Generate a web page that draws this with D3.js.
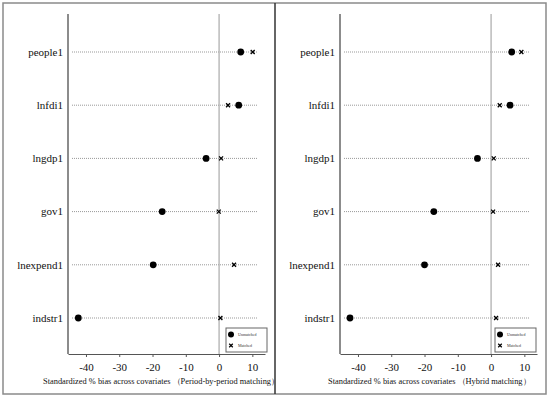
<!DOCTYPE html>
<html>
<head>
<meta charset="utf-8">
<script src="https://cdn.jsdelivr.net/npm/d3@7"></script>
<style>
  body { margin: 0; background: #fff; }
  svg text { font-family: "Liberation Serif", "Times New Roman", Times, "DejaVu Serif", serif; }
</style>
</head>
<body>
<svg id="chart" width="550" height="399"></svg>
<script>
// covariates, top to bottom
var categories = ['people1', 'lnfdi1', 'lngdp1', 'gov1', 'lnexpend1', 'indstr1'];

// standardized % bias, period-by-period matching
var unmatchedPeriod = [6.5, 5.9, -3.9, -17.1, -19.8, -42.3];
var matchedPeriod = [10.1, 2.7, 0.6, -0.1, 4.5, 0.4];

// standardized % bias, hybrid matching
var unmatchedHybrid = [6.2, 5.7, -4.1, -17.2, -20.0, -42.4];
var matchedHybrid = [9.1, 2.6, 0.8, 0.6, 2.1, 1.5];

var xTicks = [-40, -30, -20, -10, 0, 10];
var legendLabels = ['Unmatched', 'Matched'];

var svg = d3.select('#chart');

// outer frame + divider
svg.append('rect')
    .attr('x', 3).attr('y', 3).attr('width', 543).attr('height', 391)
    .attr('fill', 'none').attr('stroke', '#8a8a8a').attr('stroke-width', 1.5);
svg.append('line')
    .attr('x1', 275).attr('x2', 275).attr('y1', 3).attr('y2', 394)
    .attr('stroke', '#333').attr('stroke-width', 1.5);

drawPanel({
    left: 68, right: 265, labelX: 63, titleX: 43,
    unmatched: unmatchedPeriod, matched: matchedPeriod,
    title: 'Standardized % bias across covariates （Period-by-period matching）',
    legendX: 226
});
drawPanel({
    left: 340, right: 537, labelX: 335, titleX: 328,
    unmatched: unmatchedHybrid, matched: matchedHybrid,
    title: 'Standardized % bias across covariates （Hybrid matching）',
    legendX: 495
});

function drawPanel(p){
    var top = 14, bottom = 354;

    var x = d3.scaleLinear().domain([-45.4, 13.8]).range([p.left, p.right]);
    var y = d3.scalePoint().domain(categories).range([52, 318]);

    var g = svg.append('g');

    // dotted guide lines
    g.selectAll('.guide').data(categories).enter()
        .append('line')
        .attr('class', 'guide')
        .attr('x1', p.left + 4).attr('x2', p.right - 7)
        .attr('y1', function(d){return y(d);})
        .attr('y2', function(d){return y(d);})
        .attr('stroke', '#999').attr('stroke-width', 1)
        .attr('stroke-dasharray', '1,1');

    // zero line
    g.append('line')
        .attr('x1', x(0)).attr('x2', x(0)).attr('y1', top).attr('y2', bottom)
        .attr('stroke', '#aaa').attr('stroke-width', 1.2);

    // y axis line
    g.append('line')
        .attr('x1', p.left).attr('x2', p.left).attr('y1', top).attr('y2', bottom)
        .attr('stroke', '#666').attr('stroke-width', 1.5);

    // category labels
    g.selectAll('.cat').data(categories).enter()
        .append('text')
        .attr('class', 'cat')
        .attr('x', p.labelX)
        .attr('y', function(d){return y(d);})
        .attr('dy', '0.35em')
        .attr('text-anchor', 'end')
        .attr('font-size', 11)
        .attr('fill', '#111')
        .text(function(d){return d;});

    // x axis
    var axis = g.append('g')
        .attr('transform', 'translate(0,' + bottom + ')')
        .call(d3.axisBottom(x).tickValues(xTicks).tickSize(3).tickSizeOuter(0).tickPadding(6)
            .tickFormat(function(d){return String(d);}));
    axis.attr('font-family', null);
    axis.select('.domain').attr('stroke', '#555').attr('stroke-width', 1.2);
    axis.selectAll('.tick line').attr('stroke', '#555');
    axis.selectAll('.tick text')
        .attr('font-size', 11).attr('fill', '#111');

    // axis title
    g.append('text')
        .attr('x', p.titleX).attr('y', 384)
        .attr('font-size', 8.4)
        .attr('fill', '#111')
        .text(p.title);

    // unmatched dots
    g.selectAll('.um').data(p.unmatched).enter()
        .append('circle')
        .attr('class', 'um')
        .attr('cx', function(d){return x(d);})
        .attr('cy', function(d, i){return y(categories[i]);})
        .attr('r', 3.4)
        .attr('fill', '#000');

    // matched crosses (stroke symbol)
    var cross = d3.symbol().type(d3.symbolTimes).size(12);
    g.selectAll('.m').data(p.matched).enter()
        .append('path')
        .attr('class', 'm')
        .attr('d', cross)
        .attr('transform', function(d, i){return 'translate(' + x(d) + ',' + y(categories[i]) + ')';})
        .attr('fill', 'none')
        .attr('stroke', '#000')
        .attr('stroke-width', 1.3);

    // legend
    var lg = g.append('g').attr('transform', 'translate(' + p.legendX + ',328)');
    lg.append('rect')
        .attr('width', 41).attr('height', 24)
        .attr('fill', '#fff').attr('stroke', '#666').attr('stroke-width', 1);
    lg.append('circle').attr('cx', 5).attr('cy', 6.5).attr('r', 3).attr('fill', '#000');
    lg.append('path').attr('d', d3.symbol().type(d3.symbolTimes).size(10))
        .attr('transform', 'translate(5,17.5)')
        .attr('fill', 'none').attr('stroke', '#000').attr('stroke-width', 1.2);
    lg.selectAll('.lt').data(legendLabels).enter()
        .append('text')
        .attr('class', 'lt')
        .attr('x', 12)
        .attr('y', function(d, i){return 6.5 + i * 11;})
        .attr('dy', '0.35em')
        .attr('font-size', 4)
        .attr('fill', '#333')
        .text(function(d){return d;});
}
</script>
</body>
</html>
